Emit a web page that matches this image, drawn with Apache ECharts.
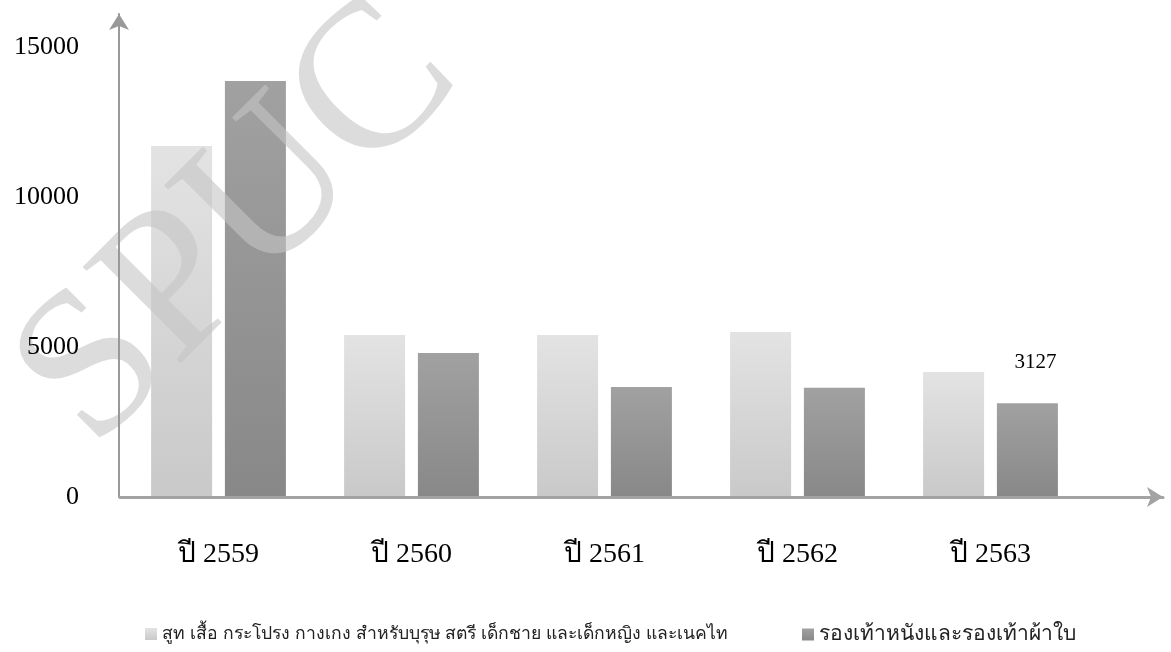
<!DOCTYPE html>
<html>
<head>
<meta charset="utf-8">
<style>
  html, body { margin: 0; padding: 0; background: #fff; }
  #chart { width: 1171px; height: 652px; }
</style>
<script src="https://cdn.jsdelivr.net/npm/echarts@6/dist/echarts.min.js"></script>
</head>
<body>
<div id="chart"></div>
<script>
const categories = ['ปี 2559', 'ปี 2560', 'ปี 2561', 'ปี 2562', 'ปี 2563'];
const clothing = [11700, 5400, 5400, 5500, 4170];
const shoes = [13870, 4800, 3670, 3640, 3127];
const labelledShoes = [4];   // only the last shoe bar carries its value
const seriesNames = [
  'สูท เสื้อ กระโปรง กางเกง สำหรับบุรุษ สตรี เด็กชาย และเด็กหญิง และเนคไท',
  'รองเท้าหนังและรองเท้าผ้าใบ'
];

const chart = echarts.init(document.getElementById('chart'));

function grad(top, bottom) {
  return {
    type: 'linear', x: 0, y: 0, x2: 0, y2: 1,
    colorStops: [{ offset: 0, color: top }, { offset: 1, color: bottom }]
  };
}

const serif = '"Liberation Serif", "Times New Roman", serif';

var option = {
  backgroundColor: '#ffffff',
  animation: false,
  grid: [
    { left: 122, right: 84, top: 14, bottom: 155 },
    { left: 120, right: 8, top: 14, bottom: 155 }
  ],
  legend: [
    {
      data: [seriesNames[0]],
      left: 140, top: 620,
      icon: 'rect', itemWidth: 12, itemHeight: 12,
      textStyle: { fontSize: 17.6, color: '#222', fontFamily: 'sans-serif' }
    },
    {
      data: [seriesNames[1]],
      left: 797, top: 619,
      icon: 'rect', itemWidth: 12, itemHeight: 12,
      textStyle: { fontSize: 21, color: '#222', fontFamily: 'sans-serif' }
    }
  ],
  xAxis: [
    {
      type: 'category',
      gridIndex: 0,
      data: categories,
      axisLine: { show: false },
      axisTick: { show: false },
      axisLabel: { fontSize: 28, color: '#000', fontFamily: serif, margin: 44 },
      z: 5
    },
    {
      type: 'value',
      gridIndex: 1,
      min: 0, max: 1,
      axisLine: {
        show: true,
        symbol: ['none', 'arrow'],
        symbolSize: [15, 16],
        lineStyle: { color: '#a3a3a3', width: 3 }
      },
      axisTick: { show: false },
      axisLabel: { show: false },
      splitLine: { show: false },
      z: 5
    }
  ],
  yAxis: [
    {
      type: 'value',
      gridIndex: 0,
      min: 0, max: 16100, interval: 5000,
      offset: 3,
      axisLine: {
        show: true,
        symbol: ['none', 'arrow'],
        symbolSize: [15, 16],
        lineStyle: { color: '#999999', width: 2 }
      },
      axisTick: { show: false },
      splitLine: { show: false },
      axisLabel: {
        fontSize: 26, color: '#000', fontFamily: serif, margin: 40, showMaxLabel: false,
        formatter: function (v) { return String(v); }
      },
      z: 5
    },
    {
      type: 'value',
      gridIndex: 1,
      show: false
    }
  ],
  graphic: [
    {
      // faint watermark from the source document
      type: 'text',
      x: 54, y: 412,
      rotation: Math.PI / 4,
      z: 3,
      silent: true,
      style: {
        text: 'SPUC',
        fontSize: 210,
        fontFamily: serif,
        fill: 'rgba(197,197,197,0.6)',
        align: 'left',
        verticalAlign: 'middle'
      }
    }
  ],
  series: [
    {
      name: seriesNames[0],
      type: 'bar',
      xAxisIndex: 0, yAxisIndex: 0,
      barWidth: 61,
      barGap: '21%',
      itemStyle: { color: grad('#e3e3e3', '#c9c9c9') },
      data: clothing
    },
    {
      name: seriesNames[1],
      type: 'bar',
      xAxisIndex: 0, yAxisIndex: 0,
      barWidth: 61,
      barGap: '21%',
      itemStyle: { color: grad('#a1a1a1', '#888888') },
      data: shoes.map(function (v, i) {
        if (labelledShoes.indexOf(i) < 0) return v;
        return {
          value: v,
          label: {
            show: true, position: 'top', distance: 30, offset: [8, 0],
            fontSize: 21, color: '#000', fontFamily: serif
          }
        };
      })
    }
  ]
};

chart.setOption(option);
</script>
</body>
</html>
